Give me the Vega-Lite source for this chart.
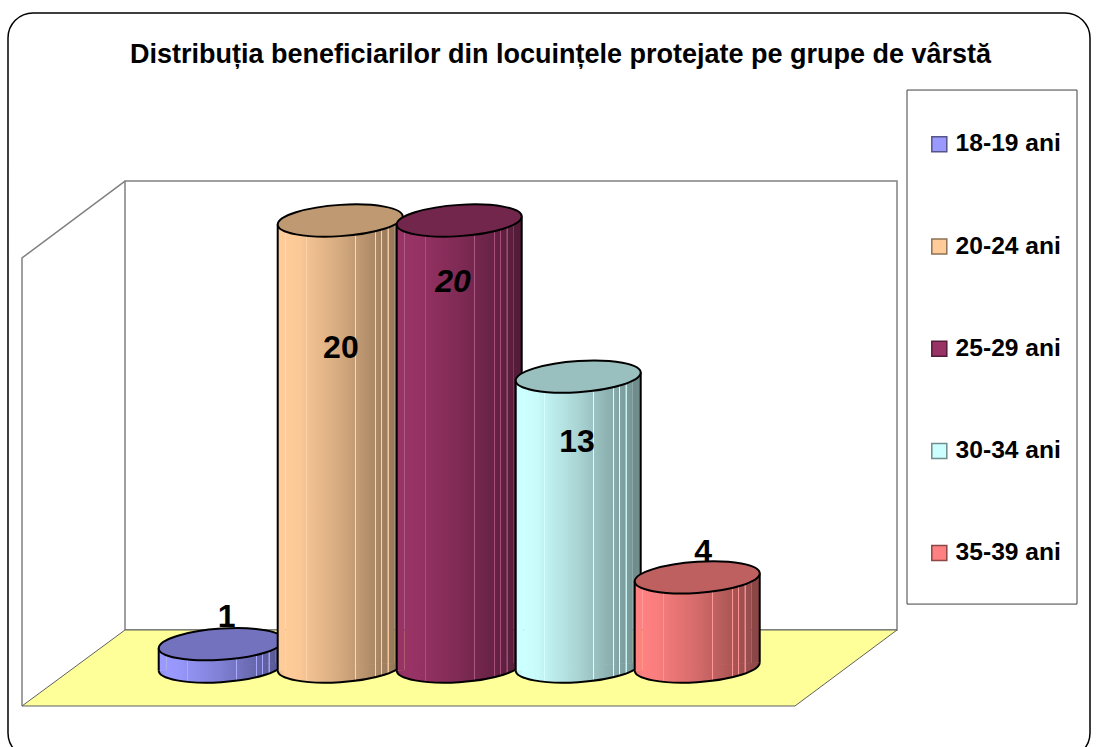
{"$schema":"https://vega.github.io/schema/vega-lite/v6.json","autosize":"none","padding":{"left":8,"top":13,"right":9,"bottom":0},"width":1082,"height":745,"background":"white",
"title":{"text":"Distribuția beneficiarilor din locuințele protejate pe grupe de vârstă","font":"Liberation Sans","fontSize":27,"fontWeight":"bold","color":"#000","anchor":"middle","dx":11.5,"dy":69,"baseline":"middle","offset":0},
"datasets":{"ages":[{"age":"18-19 ani","pos":1,"value":1},{"age":"20-24 ani","pos":2,"value":20},{"age":"25-29 ani","pos":3,"value":20},{"age":"30-34 ani","pos":4,"value":13},{"age":"35-39 ani","pos":5,"value":4}],
"floor":[{"depth":1.637,"left":0.1915,"right":6.6789},{"depth":-1.771,"left":-0.674,"right":5.8217}],
"backWall":[{"left":0.1915,"right":6.6789,"top":21.77,"bottom":1.637}],
"sideWall":[{"seq":1,"px":0.1915,"py":21.77},{"seq":2,"px":-0.674,"py":18.32},{"seq":3,"px":-0.674,"py":-1.771}],
"legendBox":[{"left":6.7629,"right":8.1915,"top":25.85,"bottom":2.8}]},
"data":{"name":"ages"},
"encoding":{"x":{"field":"pos","type":"quantitative","scale":{"domain":[-0.7917,8.3007],"nice":false,"zero":false,"padding":0}},"y":{"field":"value","type":"quantitative","scale":{"domain":[-4.103,29.305],"nice":false,"zero":false}}},
"layer":[
{"data":{"name":"backWall"},"mark":{"type":"rect","fill":"white","stroke":"#808080","strokeWidth":1.5},"encoding":{"x":{"field":"left","type":"quantitative"},"x2":{"field":"right"},"y":{"field":"top","type":"quantitative"},"y2":{"field":"bottom"}}},
{"data":{"name":"sideWall"},"mark":{"type":"line","stroke":"#808080","strokeWidth":1.5},"encoding":{"x":{"field":"px","type":"quantitative"},"y":{"field":"py","type":"quantitative"},"order":{"field":"seq"}}},
{"data":{"name":"floor"},"mark":{"type":"area","orient":"horizontal","fill":"#FFFF99","stroke":"#606060","strokeWidth":1},"encoding":{"y":{"field":"depth","type":"quantitative"},"x":{"field":"left","type":"quantitative"},"x2":{"field":"right"}}},
{"data":{"name":"legendBox"},"mark":{"type":"rect","fill":"white","stroke":"#404040","strokeWidth":1},"encoding":{"x":{"field":"left","type":"quantitative"},"x2":{"field":"right"},"y":{"field":"top","type":"quantitative"},"y2":{"field":"bottom"}}},
{"mark":{"type":"bar","size":100,"orient":"vertical","stroke":"#000","strokeWidth":1.5},"encoding":{"y2":{"datum":0},"color":{"field":"age","type":"nominal","scale":{"domain":["18-19 ani","20-24 ani","25-29 ani","30-34 ani","35-39 ani"],"range":["#9999FF","#FFCC99","#993366","#CCFFFF","#FF8080"]},"legend":{"orient":"none","legendX":919,"legendY":119,"title":null,"padding":0,"symbolType":"square","symbolSize":225,"symbolOpacity":1,"symbolStrokeColor":"#000","symbolStrokeWidth":1.5,"labelFont":"Liberation Sans","labelFontSize":24.6,"labelFontWeight":"bold","labelColor":"#000","labelOffset":4,"rowPadding":77.2,"labelLimit":200}}}},
{"transform":[{"filter":"datum.pos==1"}],"layer":[
{"mark":{"type":"bar","size":109,"orient":"vertical","color":"#9999FF"},"encoding":{"y2":{"datum":-0.18}}},
{"mark":{"type":"bar","size":109,"orient":"vertical","style":"shadeIn"},"encoding":{"y2":{"datum":-0.18}}},
{"mark":{"type":"rule","strokeWidth":8,"xOffset":-58.5,"yOffset":4,"y2Offset":4,"color":"#9999FF"},"encoding":{"y2":{"datum":0}}},
{"mark":{"type":"rule","strokeWidth":8,"xOffset":58.5,"yOffset":-4,"y2Offset":-3},"encoding":{"y2":{"datum":0},"stroke":{"field":"age","type":"nominal","legend":null,"scale":{"domain":["18-19 ani","20-24 ani","25-29 ani","30-34 ani","35-39 ani"],"range":["#545489","#8C7054","#541C38","#708C8C","#8C4646"]}}}},
{"mark":{"type":"point","shape":"M1,-.064 C1,.0741 .5523,.2147 0,.25 C-.5523,.2853 -1,.2021 -1,.064","size":15625,"filled":true,"opacity":1,"color":"#9999FF"},"encoding":{"y":{"datum":0}}},
{"mark":{"type":"point","shape":"M1,-.064 C1,.0741 .5523,.2147 0,.25 C-.5523,.2853 -1,.2021 -1,.064","size":15625,"filled":true,"opacity":1,"style":"shadeFull","stroke":"#000","strokeWidth":2},"encoding":{"y":{"datum":0}}},
{"mark":{"type":"rule","stroke":"#000","strokeWidth":2,"xOffset":-62.5,"yOffset":4,"y2Offset":4},"encoding":{"y2":{"datum":0}}},
{"mark":{"type":"rule","stroke":"#000","strokeWidth":2,"xOffset":62.5,"yOffset":-4,"y2Offset":-4},"encoding":{"y2":{"datum":0}}},
{"mark":{"type":"point","shape":"M1,-.064 C1,.0741 .5523,.2147 0,.25 C-.5523,.2853 -1,.2021 -1,.064 C-1,-.0741 -.5523,-.2147 0,-.25 C.5523,-.2853 1,-.2021 1,-.064 Z","size":15625,"filled":true,"opacity":1,"stroke":"#000","strokeWidth":2},"encoding":{"fill":{"field":"age","type":"nominal","legend":null,"scale":{"domain":["18-19 ani","20-24 ani","25-29 ani","30-34 ani","35-39 ani"],"range":["#7272BF","#BF9972","#72264C","#99BFBF","#BF6060"]}}}},
{"mark":{"type":"text","font":"Liberation Sans","fontSize":32,"fontWeight":"bold","color":"#000","dx":5.5,"dy":-27,"baseline":"middle"},"encoding":{"text":{"field":"value"}}}
]},
{"transform":[{"filter":"datum.pos==2"}],"layer":[
{"mark":{"type":"bar","size":109,"orient":"vertical","color":"#FFCC99"},"encoding":{"y2":{"datum":-0.18}}},
{"mark":{"type":"bar","size":109,"orient":"vertical","style":"shadeIn"},"encoding":{"y2":{"datum":-0.18}}},
{"mark":{"type":"rule","strokeWidth":8,"xOffset":-58.5,"yOffset":4,"y2Offset":4,"color":"#FFCC99"},"encoding":{"y2":{"datum":0}}},
{"mark":{"type":"rule","strokeWidth":8,"xOffset":58.5,"yOffset":-4,"y2Offset":-3},"encoding":{"y2":{"datum":0},"stroke":{"field":"age","type":"nominal","legend":null}}},
{"mark":{"type":"point","shape":"M1,-.064 C1,.0741 .5523,.2147 0,.25 C-.5523,.2853 -1,.2021 -1,.064","size":15625,"filled":true,"opacity":1,"color":"#FFCC99"},"encoding":{"y":{"datum":0}}},
{"mark":{"type":"point","shape":"M1,-.064 C1,.0741 .5523,.2147 0,.25 C-.5523,.2853 -1,.2021 -1,.064","size":15625,"filled":true,"opacity":1,"style":"shadeFull","stroke":"#000","strokeWidth":2},"encoding":{"y":{"datum":0}}},
{"mark":{"type":"rule","stroke":"#000","strokeWidth":2,"xOffset":-62.5,"yOffset":4,"y2Offset":4},"encoding":{"y2":{"datum":0}}},
{"mark":{"type":"rule","stroke":"#000","strokeWidth":2,"xOffset":62.5,"yOffset":-4,"y2Offset":-4},"encoding":{"y2":{"datum":0}}},
{"mark":{"type":"point","shape":"M1,-.064 C1,.0741 .5523,.2147 0,.25 C-.5523,.2853 -1,.2021 -1,.064 C-1,-.0741 -.5523,-.2147 0,-.25 C.5523,-.2853 1,-.2021 1,-.064 Z","size":15625,"filled":true,"opacity":1,"stroke":"#000","strokeWidth":2},"encoding":{"fill":{"field":"age","type":"nominal","legend":null}}},
{"mark":{"type":"text","font":"Liberation Sans","fontSize":32,"fontWeight":"bold","color":"#000","dx":0.7,"dy":127.5,"baseline":"middle"},"encoding":{"text":{"field":"value"}}}
]},
{"transform":[{"filter":"datum.pos==3"}],"layer":[
{"mark":{"type":"bar","size":109,"orient":"vertical","color":"#993366"},"encoding":{"y2":{"datum":-0.18}}},
{"mark":{"type":"bar","size":109,"orient":"vertical","style":"shadeIn"},"encoding":{"y2":{"datum":-0.18}}},
{"mark":{"type":"rule","strokeWidth":8,"xOffset":-58.5,"yOffset":4,"y2Offset":4,"color":"#993366"},"encoding":{"y2":{"datum":0}}},
{"mark":{"type":"rule","strokeWidth":8,"xOffset":58.5,"yOffset":-4,"y2Offset":-3},"encoding":{"y2":{"datum":0},"stroke":{"field":"age","type":"nominal","legend":null}}},
{"mark":{"type":"point","shape":"M1,-.064 C1,.0741 .5523,.2147 0,.25 C-.5523,.2853 -1,.2021 -1,.064","size":15625,"filled":true,"opacity":1,"color":"#993366"},"encoding":{"y":{"datum":0}}},
{"mark":{"type":"point","shape":"M1,-.064 C1,.0741 .5523,.2147 0,.25 C-.5523,.2853 -1,.2021 -1,.064","size":15625,"filled":true,"opacity":1,"style":"shadeFull","stroke":"#000","strokeWidth":2},"encoding":{"y":{"datum":0}}},
{"mark":{"type":"rule","stroke":"#000","strokeWidth":2,"xOffset":-62.5,"yOffset":4,"y2Offset":4},"encoding":{"y2":{"datum":0}}},
{"mark":{"type":"rule","stroke":"#000","strokeWidth":2,"xOffset":62.5,"yOffset":-4,"y2Offset":-4},"encoding":{"y2":{"datum":0}}},
{"mark":{"type":"point","shape":"M1,-.064 C1,.0741 .5523,.2147 0,.25 C-.5523,.2853 -1,.2021 -1,.064 C-1,-.0741 -.5523,-.2147 0,-.25 C.5523,-.2853 1,-.2021 1,-.064 Z","size":15625,"filled":true,"opacity":1,"stroke":"#000","strokeWidth":2},"encoding":{"fill":{"field":"age","type":"nominal","legend":null}}},
{"mark":{"type":"text","font":"Liberation Sans","fontSize":32,"fontWeight":"bold","fontStyle":"italic","color":"#000","dx":-6.2,"dy":61,"baseline":"middle"},"encoding":{"text":{"field":"value"}}}
]},
{"transform":[{"filter":"datum.pos==4"}],"layer":[
{"mark":{"type":"bar","size":109,"orient":"vertical","color":"#CCFFFF"},"encoding":{"y2":{"datum":-0.18}}},
{"mark":{"type":"bar","size":109,"orient":"vertical","style":"shadeIn"},"encoding":{"y2":{"datum":-0.18}}},
{"mark":{"type":"rule","strokeWidth":8,"xOffset":-58.5,"yOffset":4,"y2Offset":4,"color":"#CCFFFF"},"encoding":{"y2":{"datum":0}}},
{"mark":{"type":"rule","strokeWidth":8,"xOffset":58.5,"yOffset":-4,"y2Offset":-3},"encoding":{"y2":{"datum":0},"stroke":{"field":"age","type":"nominal","legend":null}}},
{"mark":{"type":"point","shape":"M1,-.064 C1,.0741 .5523,.2147 0,.25 C-.5523,.2853 -1,.2021 -1,.064","size":15625,"filled":true,"opacity":1,"color":"#CCFFFF"},"encoding":{"y":{"datum":0}}},
{"mark":{"type":"point","shape":"M1,-.064 C1,.0741 .5523,.2147 0,.25 C-.5523,.2853 -1,.2021 -1,.064","size":15625,"filled":true,"opacity":1,"style":"shadeFull","stroke":"#000","strokeWidth":2},"encoding":{"y":{"datum":0}}},
{"mark":{"type":"rule","stroke":"#000","strokeWidth":2,"xOffset":-62.5,"yOffset":4,"y2Offset":4},"encoding":{"y2":{"datum":0}}},
{"mark":{"type":"rule","stroke":"#000","strokeWidth":2,"xOffset":62.5,"yOffset":-4,"y2Offset":-4},"encoding":{"y2":{"datum":0}}},
{"mark":{"type":"point","shape":"M1,-.064 C1,.0741 .5523,.2147 0,.25 C-.5523,.2853 -1,.2021 -1,.064 C-1,-.0741 -.5523,-.2147 0,-.25 C.5523,-.2853 1,-.2021 1,-.064 Z","size":15625,"filled":true,"opacity":1,"stroke":"#000","strokeWidth":2},"encoding":{"fill":{"field":"age","type":"nominal","legend":null}}},
{"mark":{"type":"text","font":"Liberation Sans","fontSize":32,"fontWeight":"bold","color":"#000","dx":-1.2,"dy":65.4,"baseline":"middle"},"encoding":{"text":{"field":"value"}}}
]},
{"transform":[{"filter":"datum.pos==5"}],"layer":[
{"mark":{"type":"bar","size":109,"orient":"vertical","color":"#FF8080"},"encoding":{"y2":{"datum":-0.18}}},
{"mark":{"type":"bar","size":109,"orient":"vertical","style":"shadeIn"},"encoding":{"y2":{"datum":-0.18}}},
{"mark":{"type":"rule","strokeWidth":8,"xOffset":-58.5,"yOffset":4,"y2Offset":4,"color":"#FF8080"},"encoding":{"y2":{"datum":0}}},
{"mark":{"type":"rule","strokeWidth":8,"xOffset":58.5,"yOffset":-4,"y2Offset":-3},"encoding":{"y2":{"datum":0},"stroke":{"field":"age","type":"nominal","legend":null}}},
{"mark":{"type":"point","shape":"M1,-.064 C1,.0741 .5523,.2147 0,.25 C-.5523,.2853 -1,.2021 -1,.064","size":15625,"filled":true,"opacity":1,"color":"#FF8080"},"encoding":{"y":{"datum":0}}},
{"mark":{"type":"point","shape":"M1,-.064 C1,.0741 .5523,.2147 0,.25 C-.5523,.2853 -1,.2021 -1,.064","size":15625,"filled":true,"opacity":1,"style":"shadeFull","stroke":"#000","strokeWidth":2},"encoding":{"y":{"datum":0}}},
{"mark":{"type":"rule","stroke":"#000","strokeWidth":2,"xOffset":-62.5,"yOffset":4,"y2Offset":4},"encoding":{"y2":{"datum":0}}},
{"mark":{"type":"rule","stroke":"#000","strokeWidth":2,"xOffset":62.5,"yOffset":-4,"y2Offset":-4},"encoding":{"y2":{"datum":0}}},
{"mark":{"type":"point","shape":"M1,-.064 C1,.0741 .5523,.2147 0,.25 C-.5523,.2853 -1,.2021 -1,.064 C-1,-.0741 -.5523,-.2147 0,-.25 C.5523,-.2853 1,-.2021 1,-.064 Z","size":15625,"filled":true,"opacity":1,"stroke":"#000","strokeWidth":2},"encoding":{"fill":{"field":"age","type":"nominal","legend":null}}},
{"mark":{"type":"text","font":"Liberation Sans","fontSize":32,"fontWeight":"bold","color":"#000","dx":6,"dy":-25,"baseline":"middle"},"encoding":{"text":{"field":"value"}}}
]}
],
"config":{"axis":{"disable":true},"view":{"stroke":"#000","strokeWidth":1.5,"cornerRadius":25,"fill":"white"},
"style":{
"shadeIn":{"color":{"gradient":"linear","x1":-0.0734,"y1":0,"x2":1.0734,"y2":0,"stops":[{"offset":0,"color":"rgba(0,0,0,0.1)"},{"offset":0.06,"color":"rgba(0,0,0,0)"},{"offset":0.18,"color":"rgba(0,0,0,0.02)"},{"offset":0.228,"color":"rgba(0,0,0,0.05)"},{"offset":0.229,"color":"rgba(255,255,255,0.15)"},{"offset":0.236,"color":"rgba(255,255,255,0.15)"},{"offset":0.237,"color":"rgba(0,0,0,0.05)"},{"offset":0.4,"color":"rgba(0,0,0,0.12)"},{"offset":0.5,"color":"rgba(0,0,0,0.17)"},{"offset":0.618,"color":"rgba(0,0,0,0.24)"},{"offset":0.619,"color":"rgba(255,255,255,0.18)"},{"offset":0.626,"color":"rgba(255,255,255,0.18)"},{"offset":0.627,"color":"rgba(0,0,0,0.24)"},{"offset":0.778,"color":"rgba(0,0,0,0.33)"},{"offset":0.779,"color":"rgba(255,255,255,0.14)"},{"offset":0.786,"color":"rgba(255,255,255,0.14)"},{"offset":0.787,"color":"rgba(0,0,0,0.33)"},{"offset":0.828,"color":"rgba(0,0,0,0.36)"},{"offset":0.829,"color":"rgba(255,255,255,0.14)"},{"offset":0.836,"color":"rgba(255,255,255,0.14)"},{"offset":0.837,"color":"rgba(0,0,0,0.36)"},{"offset":0.878,"color":"rgba(0,0,0,0.39)"},{"offset":0.879,"color":"rgba(255,255,255,0.1)"},{"offset":0.886,"color":"rgba(255,255,255,0.1)"},{"offset":0.887,"color":"rgba(0,0,0,0.39)"},{"offset":1,"color":"rgba(0,0,0,0.45)"}]}},
"shadeFull":{"color":{"gradient":"linear","x1":0,"y1":0,"x2":1,"y2":0,"stops":[{"offset":0,"color":"rgba(0,0,0,0.1)"},{"offset":0.06,"color":"rgba(0,0,0,0)"},{"offset":0.18,"color":"rgba(0,0,0,0.02)"},{"offset":0.228,"color":"rgba(0,0,0,0.05)"},{"offset":0.229,"color":"rgba(255,255,255,0.15)"},{"offset":0.236,"color":"rgba(255,255,255,0.15)"},{"offset":0.237,"color":"rgba(0,0,0,0.05)"},{"offset":0.4,"color":"rgba(0,0,0,0.12)"},{"offset":0.5,"color":"rgba(0,0,0,0.17)"},{"offset":0.618,"color":"rgba(0,0,0,0.24)"},{"offset":0.619,"color":"rgba(255,255,255,0.18)"},{"offset":0.626,"color":"rgba(255,255,255,0.18)"},{"offset":0.627,"color":"rgba(0,0,0,0.24)"},{"offset":0.778,"color":"rgba(0,0,0,0.33)"},{"offset":0.779,"color":"rgba(255,255,255,0.14)"},{"offset":0.786,"color":"rgba(255,255,255,0.14)"},{"offset":0.787,"color":"rgba(0,0,0,0.33)"},{"offset":0.828,"color":"rgba(0,0,0,0.36)"},{"offset":0.829,"color":"rgba(255,255,255,0.14)"},{"offset":0.836,"color":"rgba(255,255,255,0.14)"},{"offset":0.837,"color":"rgba(0,0,0,0.36)"},{"offset":0.878,"color":"rgba(0,0,0,0.39)"},{"offset":0.879,"color":"rgba(255,255,255,0.1)"},{"offset":0.886,"color":"rgba(255,255,255,0.1)"},{"offset":0.887,"color":"rgba(0,0,0,0.39)"},{"offset":1,"color":"rgba(0,0,0,0.45)"}]}}
}}}
